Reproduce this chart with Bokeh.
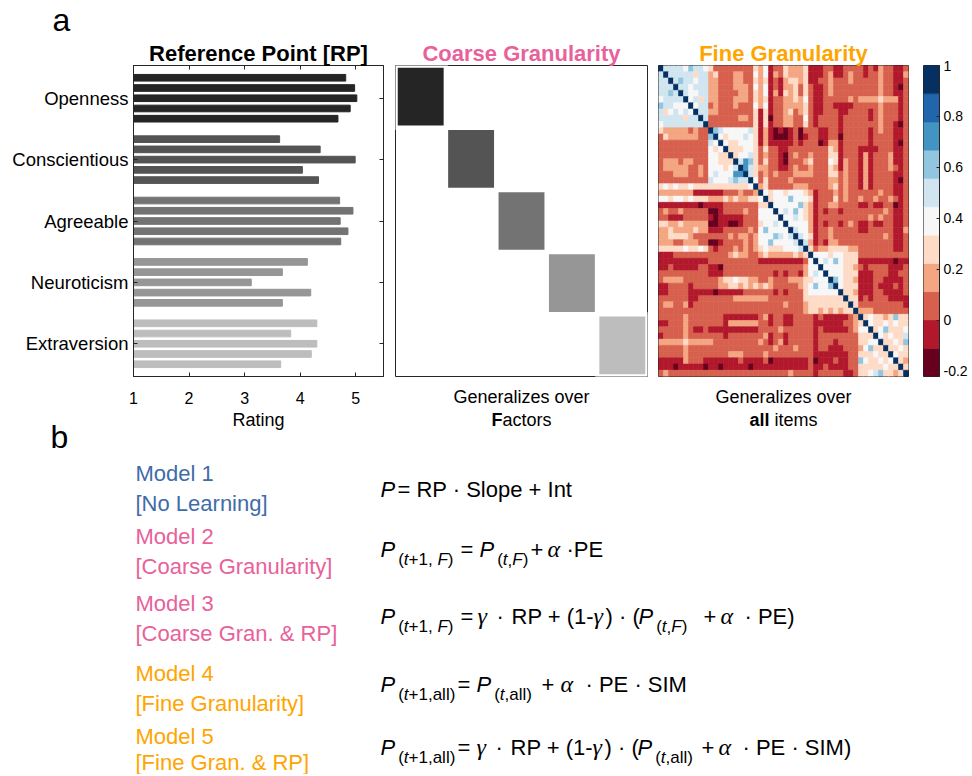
from bokeh.plotting import figure
from bokeh.models import ColumnDataSource, Range1d, LinearAxis, FixedTicker, LinearColorMapper
from bokeh.layouts import row, column
from bokeh.core.properties import value, field
from bokeh.embed import file_html
from bokeh.resources import INLINE

SANS = "Liberation Sans"
SERIF = "Liberation Serif"
AX = "#262626"
BLACK = "#000000"

# ---------------- data ----------------
factors = ["Openness", "Conscientious", "Agreeable", "Neuroticism", "Extraversion"]
factor_colors = ["#252525", "#545454", "#737373", "#969696", "#bdbdbd"]
rp_openness = [4.82, 4.98, 5.02, 4.90, 4.68]
rp_conscientious = [3.63, 4.36, 4.99, 4.04, 4.33]
rp_agreeable = [4.71, 4.95, 4.72, 4.86, 4.73]
rp_neuroticism = [4.13, 3.68, 3.12, 4.19, 3.68]
rp_extraversion = [4.30, 3.83, 4.30, 4.20, 3.65]
rating_ticks = [1, 2, 3, 4, 5]
items_per_factor = 5

# similarity matrix (50 items): colour-bin level read per cell (0..10, A=10), upper triangle
rdbu11 = ["#67001f", "#b2182b", "#d6604d", "#f4a582", "#fddbc7", "#f7f7f7",
          "#d1e5f0", "#92c5de", "#4393c3", "#2166ac", "#053061"]
sim_low, sim_high = -0.22, 1.0
sim_ticks = [-0.2, 0, 0.2, 0.4, 0.6, 0.8, 1]
sim_upper = [
    "A666657665 4222222224 3512243334 1112211222 2121322112",
    ".A66666466 3422233225 3513243334 1112311232 2122322113",
    "..A6766566 3322233224 3412134434 1122322232 2222322112",
    "...A665666 3322233325 3512133424 2112322222 2222322102",
    "....A65566 3322223324 3513143424 2112322222 2222322112",
    ".....A5646 3322233324 3412233435 2112222232 3333433312",
    "......A566 2322232225 3512233334 2112211112 2222322212",
    ".......A66 3322222224 1412234234 2112221122 2212322212",
    "........A6 2222223324 1402233225 2122221222 2212322212",
    ".........A 2222222224 1412233224 2122221222 2222322102",
    ".......... A765555564 1310101202 2211221222 2212322112",
    ".......... .A54555654 1310001201 2211220222 2212222112",
    ".......... ..A5445554 1311111212 2201331222 2212222102",
    ".......... ...A444554 2422112222 2222431222 1111222112",
    ".......... ....A45564 2322102322 3222441222 1312223112",
    ".......... .....A6874 2422102223 4222541322 1312223112",
    ".......... ......A864 3322112322 3222431322 1312223212",
    ".......... .......A64 2323222333 3222442322 1312222112",
    ".......... ........A5 2422223222 2222332322 1312222102",
    ".......... .........A 3422222333 2222342322 1312222112",
    ".......... .......... A545545554 3122232322 2222322112",
    ".......... .......... .A45557555 4122242322 3223223212",
    ".......... .......... ..A5555574 3122332222 1121122012",
    ".......... .......... ...A565754 3121221222 2222232112",
    ".......... .......... ....A55654 3122222222 2232322112",
    ".......... .......... .....A5555 3121221232 1121122112",
    ".......... .......... ......A655 3122322222 1122222113",
    ".......... .......... .......A65 4122322222 2222232112",
    ".......... .......... ........A6 3121332222 2222222112",
    ".......... .......... .........A 4233444433 2222222112",
    ".......... .......... .......... A555455444 2222222222",
    ".......... .......... .......... .A56575444 1111111011",
    ".......... .......... .......... ..A5555443 2122221112",
    ".......... .......... .......... ...A555444 1112221122",
    ".......... .......... .......... ....A75443 1112211112",
    ".......... .......... .......... .....A5444 1112111212",
    ".......... .......... .......... ......A443 1112211112",
    ".......... .......... .......... .......A44 1212221111",
    ".......... .......... .......... ........A4 2222222221",
    ".......... .......... .......... .........A 3332222222",
    ".......... .......... .......... .......... A454434744",
    ".......... .......... .......... .......... .A54454544",
    ".......... .......... .......... .......... ..A4574445",
    ".......... .......... .......... .......... ...A545446",
    ".......... .......... .......... .......... ....A44547",
    ".......... .......... .......... .......... .....A4454",
    ".......... .......... .......... .......... ......A544",
    ".......... .......... .......... .......... .......A43",
    ".......... .......... .......... .......... ........A4",
    ".......... .......... .......... .......... .........A",
]

model_names = ["Model 1", "Model 2", "Model 3", "Model 4", "Model 5"]
model_desc = ["[No Learning]", "[Coarse Granularity]", "[Coarse Gran. & RP]",
              "[Fine Granularity]", "[Fine Gran. & RP]"]
BLUE, PINK, ORANGE = "#3f6ca8", "#e8619b", "#ffa500"
model_colors = [BLUE, PINK, PINK, ORANGE, ORANGE]

# ---------------- layout constants (pixels) ----------------
TOP_H = 38                  # strip holding the panel letter "a"
BT, FH, BB = 26, 314, 31    # top border, frame height, bottom border of the panel row
ROW_H = BT + FH + BB
W1, L1, R1 = 389, 133, 6
W2, L2, R2 = 263, 6, 5
W3, L3, R3 = 271, 6, 15
WC, LC, RC = 47, 0, 29
PAGE_W = W1 + W2 + W3 + WC
ROW_BOTTOM = TOP_H + ROW_H
BOT_H = 774 - ROW_BOTTOM

def figkw(w, l, r):
    return dict(width=w, height=ROW_H, output_backend="svg", toolbar_location=None,
                min_border_left=l, min_border_right=r, min_border_top=BT, min_border_bottom=BB)

def style_title(p, text, color):
    p.title.text = text
    p.title.align = "center"
    p.title.text_font = SANS
    p.title.text_font_size = "22px"
    p.title.text_font_style = "bold"
    p.title.text_color = color
    p.title.standoff = 0

def tick_only_axis(ticks):
    return LinearAxis(ticker=FixedTicker(ticks=ticks), major_label_overrides={t: "" for t in ticks},
                      major_label_text_font_size="1px", major_label_standoff=0,
                      major_tick_in=4, major_tick_out=0, minor_tick_line_color=None,
                      axis_line_color=AX, major_tick_line_color=AX)

# ---------------- panel 1: reference point bars ----------------
rp_all = [rp_openness, rp_conscientious, rp_agreeable, rp_neuroticism, rp_extraversion]
ys, xs, cs = [], [], []
for f, vals in enumerate(rp_all):
    for j, v in enumerate(vals):
        ys.append(f * (items_per_factor + 1) + j + 1)
        xs.append(v)
        cs.append(factor_colors[f])
src1 = ColumnDataSource(dict(y=ys, right=xs, color=cs))
n_slots = len(rp_all) * (items_per_factor + 1) - 1
fac_pos = [f * (items_per_factor + 1) + (items_per_factor + 1) / 2 for f in range(len(factors))]

p1 = figure(x_range=Range1d(1, 5.5), y_range=Range1d(n_slots + 1.2, -0.2), **figkw(W1, L1, R1))
p1.hbar(y="y", right="right", left=0, height=0.65, color="color", source=src1)
p1.grid.visible = False
p1.outline_line_color = AX

xa = p1.xaxis[0]
xa.ticker = FixedTicker(ticks=rating_ticks)
xa.major_label_text_font = SANS
xa.major_label_text_font_size = "16px"
xa.major_label_text_color = BLACK
xa.major_label_standoff = 15
xa.major_tick_in = 4
xa.major_tick_out = 0
xa.minor_tick_line_color = None
xa.axis_line_color = AX
xa.major_tick_line_color = AX

ya = p1.yaxis[0]
ya.ticker = FixedTicker(ticks=fac_pos)
ya.major_label_overrides = {fac_pos[i]: factors[i] for i in range(len(factors))}
ya.major_label_text_font = SANS
ya.major_label_text_font_size = "18.5px"
ya.major_label_text_color = BLACK
ya.major_label_standoff = 5
ya.major_tick_in = 4
ya.major_tick_out = 0
ya.minor_tick_line_color = None
ya.axis_line_color = AX
ya.major_tick_line_color = AX

p1.add_layout(tick_only_axis(rating_ticks), "above")
p1.add_layout(tick_only_axis(fac_pos), "right")
style_title(p1, "Reference Point [RP]", BLACK)

def label_axis(p, text):
    ax = LinearAxis(ticker=FixedTicker(ticks=[]), axis_line_color=None, major_tick_line_color=None,
                    minor_tick_line_color=None, major_label_standoff=0, major_tick_out=0,
                    axis_label=text, axis_label_text_font=SANS, axis_label_text_font_size="18px",
                    axis_label_text_font_style="normal", axis_label_text_color=BLACK,
                    axis_label_standoff=10)
    p.add_layout(ax, "below")

# ---------------- panel 2: coarse granularity ----------------
nf = len(factors)
p2 = figure(x_range=Range1d(0, nf), y_range=Range1d(nf, 0),
            x_axis_location=None, y_axis_location=None, **figkw(W2, L2, R2))
p2.grid.visible = False
p2.outline_line_color = AX
src2 = ColumnDataSource(dict(left=list(range(nf)), right=[i + 1 for i in range(nf)],
                             top=list(range(nf)), bottom=[i + 1 for i in range(nf)],
                             color=factor_colors))
p2.quad(left="left", right="right", top="top", bottom="bottom", fill_color="color",
        line_color="white", line_width=4.5, source=src2)
style_title(p2, "Coarse Granularity", PINK)
label_axis(p2, "Generalizes over")

# ---------------- panel 3: fine granularity ----------------
N = len(sim_upper)
levels = [[0] * N for _ in range(N)]
for r, s in enumerate(sim_upper):
    s = s.replace(" ", "")
    assert len(s) == N, (r, len(s))
    for c in range(r, N):
        ch = s[c]
        lv = 10 if ch == "A" else int(ch)
        levels[r][c] = lv
        levels[c][r] = lv
step = (sim_high - sim_low) / len(rdbu11)
hx, hy, hv = [], [], []
for r in range(N):
    for c in range(N):
        hx.append(c + 0.5)
        hy.append(r + 0.5)
        hv.append(sim_low + (levels[r][c] + 0.5) * step)
mapper = LinearColorMapper(palette=rdbu11, low=sim_low, high=sim_high)
src3 = ColumnDataSource(dict(x=hx, y=hy, v=hv))

p3 = figure(x_range=Range1d(0, N), y_range=Range1d(N, 0),
            x_axis_location=None, y_axis_location=None, **figkw(W3, L3, R3))
p3.grid.visible = False
p3.outline_line_color = AX
p3.rect(x="x", y="y", width=1, height=1, source=src3,
        fill_color={"field": "v", "transform": mapper},
        line_color={"field": "v", "transform": mapper}, line_width=0.6)
style_title(p3, "Fine Granularity", ORANGE)
label_axis(p3, "Generalizes over")

# ---------------- colour bar ----------------
pc = figure(x_range=Range1d(0, 1), y_range=Range1d(sim_low, sim_high),
            x_axis_location=None, y_axis_location="right", **figkw(WC, LC, RC))
pc.grid.visible = False
pc.outline_line_color = AX
src_c = ColumnDataSource(dict(bottom=[sim_low + i * step for i in range(len(rdbu11))],
                              top=[sim_low + (i + 1) * step for i in range(len(rdbu11))],
                              color=rdbu11))
pc.quad(left=0, right=1, bottom="bottom", top="top", fill_color="color", line_color="color",
        line_width=0.5, source=src_c)
ca = pc.yaxis[0]
ca.ticker = FixedTicker(ticks=sim_ticks)
ca.major_label_overrides = {t: ("%g" % t) for t in sim_ticks}
ca.major_label_text_font = SANS
ca.major_label_text_font_size = "14px"
ca.major_label_text_color = BLACK
ca.major_label_standoff = 4
ca.major_tick_in = 3
ca.major_tick_out = 0
ca.minor_tick_line_color = None
ca.axis_line_color = AX
ca.major_tick_line_color = AX

# ---------------- text helpers (Arial metrics) ----------------
REG_W = {' ': 278, '(': 333, ')': 333, '+': 584, ',': 278, '-': 333, '\u00b7': 278, '.': 278,
         '=': 584, '1': 556, 'E': 667, 'F': 611, 'I': 278, 'M': 833, 'P': 667, 'R': 722,
         'S': 667, 'G': 778, 'a': 556, 'c': 500, 'e': 556, 'i': 222, 'l': 222, 'm': 833,
         'n': 556, 'o': 556, 'p': 556, 'r': 333, 's': 500, 't': 278, 'u': 556, 'v': 500,
         'z': 500, 'g': 556, '\u03b1': 560, '\u03b3': 480}
BOLD_W = {'F': 611, 'a': 556, 'l': 278}
MID = 0.35   # distance baseline -> vertical middle of the em box, in em

def tw(s, size, bold=False):
    tbl = BOLD_W if bold else REG_W
    return sum(tbl.get(ch, REG_W.get(ch, 556)) for ch in s) * size / 1000.0

def new_table():
    return dict(x=[], y=[], text=[], font=[], size=[], style=[], color=[], align=[])

def add_text(T, x, baseline, text, font, size, style, color=BLACK, align="left"):
    T["x"].append(x); T["y"].append(baseline - MID * size); T["text"].append(text)
    T["font"].append(font); T["size"].append("%gpx" % size)
    T["style"].append(style); T["color"].append(color); T["align"].append(align)

T = new_table()

# second caption lines under the three panels (page coordinates)
fc1 = L1 + (W1 - L1 - R1) / 2
fc2 = W1 + L2 + (W2 - L2 - R2) / 2
fc3 = W1 + W2 + L3 + (W3 - L3 - R3) / 2
CAP_Y = 426
add_text(T, fc1, CAP_Y, "Rating", SANS, 18, "normal", align="center")
for cx, bold_part, rest, gap in [(fc2, "F", "actors", 0.0), (fc3, "all", "items", tw(" ", 18))]:
    total = tw(bold_part, 18, True) + gap + tw(rest, 18)
    jx = cx - total / 2 + tw(bold_part, 18, True)
    add_text(T, jx, CAP_Y, bold_part, SANS, 18, "bold", align="right")
    add_text(T, jx + gap, CAP_Y, rest, SANS, 18, "normal", align="left")

# ---------------- panel b: model equations ----------------
MAIN, SUB, GREEK, SUB_DY, SUB_GAP = 22, 17, 24, 8, 3
KIND = {
    "m": (SANS, MAIN, "normal", 0),
    "mi": (SANS, MAIN, "italic", 0),
    "s": (SANS, SUB, "normal", SUB_DY),
    "si": (SANS, SUB, "italic", SUB_DY),
    "g": (SERIF, GREEK, "italic", 0),
}
sub_tF = [("(", "s"), ("t", "si"), (",", "s"), ("F", "si"), (")", "s")]
sub_t1F = [("(", "s"), ("t", "si"), ("+1, ", "s"), ("F", "si"), (")", "s")]
sub_tall = [("(", "s"), ("t", "si"), (",all)", "s")]
sub_t1all = [("(", "s"), ("t", "si"), ("+1,all)", "s")]
P = [("P", "mi")]
equations = [
    (497, [(380, P), (397, [("= RP \u00b7 Slope + Int", "m")])]),
    (557, [(380, P + sub_t1F), (460, [("= ", "m")] + P + sub_tF),
           (530, [("+ ", "m")]), (547, [("\u03b1", "g")]), (566, [("\u00b7PE", "m")])]),
    (624, [(380, P + sub_t1F), (460, [("=", "m")]), (477, [("\u03b3", "g")]),
           (496, [("\u00b7", "m")]), (511, [("RP + (1-", "m")]), (593, [("\u03b3", "g")]),
           (605, [(") \u00b7 (", "m")] + P + sub_tF),
           (703, [("+ ", "m")]), (720, [("\u03b1", "g")]), (744, [("\u00b7 PE)", "m")])]),
    (692, [(380, P + sub_t1all), (457, [("= ", "m")] + P + sub_tall),
           (541, [("+ ", "m")]), (560, [("\u03b1", "g")]), (585, [("\u00b7 PE \u00b7 SIM", "m")])]),
    (755, [(380, P + sub_t1all), (457, [("=", "m")]), (476, [("\u03b3", "g")]),
           (495, [("\u00b7", "m")]), (510, [("RP + (1-", "m")]), (592, [("\u03b3", "g")]),
           (604, [(") \u00b7 (", "m")] + P + sub_tall),
           (701, [("+ ", "m")]), (718, [("\u03b1", "g")]), (742, [("\u00b7 PE \u00b7 SIM)", "m")])]),
]
for base, groups in equations:
    for gx, parts in groups:
        x = gx
        prev_sub = False
        for txt, kind in parts:
            font, size, style, dy = KIND[kind]
            is_sub = kind in ("s", "si")
            if is_sub and not prev_sub:
                x += SUB_GAP
            add_text(T, x, base + dy, txt, font, size, style)
            x += tw(txt, size)
            prev_sub = is_sub

name_base = [481, 544, 611, 681, 744]
desc_base = [511, 574, 641, 711, 770]
for i in range(len(model_names)):
    add_text(T, 135, name_base[i], model_names[i], SANS, 22, "normal", model_colors[i])
    add_text(T, 135, desc_base[i], model_desc[i], SANS, 22, "normal", model_colors[i])
add_text(T, 50, 448, "b", SANS, 32, "normal")

def text_fig(h, y0, y1, src):
    p = figure(width=PAGE_W, height=h, x_range=Range1d(0, PAGE_W), y_range=Range1d(y1, y0),
               output_backend="svg", toolbar_location=None,
               x_axis_location=None, y_axis_location=None, min_border=0)
    p.title.visible = False
    p.grid.visible = False
    p.outline_line_color = None
    p.text(x="x", y="y", text="text", source=src, text_font=field("font"),
           text_font_size=field("size"), text_font_style=field("style"),
           text_color=field("color"), text_align=field("align"), text_baseline="middle")
    return p

p4 = text_fig(BOT_H, ROW_BOTTOM, ROW_BOTTOM + BOT_H, ColumnDataSource(T))

TA = new_table()
add_text(TA, 52, 30.5, "a", SANS, 32, "normal")
p0 = text_fig(TOP_H, 0, TOP_H, ColumnDataSource(TA))

layout = column(p0, row(p1, p2, p3, pc), p4)
open("out.html", "w").write(file_html(layout, INLINE))
